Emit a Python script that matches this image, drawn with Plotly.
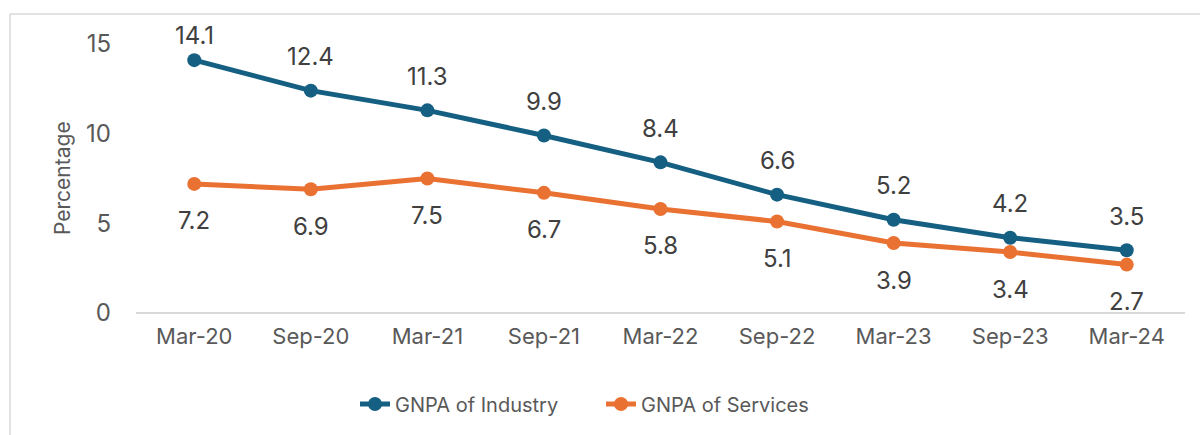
import plotly.graph_objects as go

categories = ["Mar-20", "Sep-20", "Mar-21", "Sep-21", "Mar-22", "Sep-22", "Mar-23", "Sep-23", "Mar-24"]
industry = [14.1, 12.4, 11.3, 9.9, 8.4, 6.6, 5.2, 4.2, 3.5]
services = [7.2, 6.9, 7.5, 6.7, 5.8, 5.1, 3.9, 3.4, 2.7]
y_ticks = [0, 5, 10, 15]

W, H = 1200, 435
L, R, T, B = 136, 15, 44, 122
pw, ph = W - L - R, H - T - B
YMAX = 15

FONT = "Inter, Roboto, Liberation Sans, sans-serif"
BLUE, ORANGE = "#156082", "#E97132"
LABEL_SIZE = 24

fig = go.Figure()
for name, vals, col in [("GNPA of Industry", industry, BLUE), ("GNPA of Services", services, ORANGE)]:
    fig.add_trace(go.Scatter(
        x=categories, y=vals, name=name, mode="lines+markers",
        line=dict(color=col, width=5), marker=dict(size=14, color=col),
        cliponaxis=False,
    ))

# data labels: industry above, services below
for c, v in zip(categories, industry):
    point_px = T + (YMAX - v) * ph / YMAX
    shift = min(34, point_px - 36)
    fig.add_annotation(x=c, y=v, text=f"{v:.1f}", showarrow=False, yshift=shift,
                       font=dict(size=LABEL_SIZE, color="#404040", family=FONT))
for c, v in zip(categories, services):
    fig.add_annotation(x=c, y=v, text=f"{v:.1f}", showarrow=False, yshift=-37,
                       font=dict(size=LABEL_SIZE, color="#404040", family=FONT))

def px_x(p):
    return (p - L) / pw

def px_y(p):
    return 1 - (p - T) / ph

fig.add_shape(type="rect", xref="paper", yref="paper",
              x0=px_x(10), x1=px_x(1215), y0=px_y(14), y1=px_y(460),
              line=dict(color="#d9d9d9", width=1.5), fillcolor="rgba(0,0,0,0)", layer="below")

fig.add_annotation(text="Percentage", xref="paper", yref="paper",
                   x=px_x(62), y=px_y(178), xanchor="center", yanchor="middle",
                   textangle=-90, showarrow=False,
                   font=dict(size=21, color="#595959", family=FONT))

fig.update_layout(
    width=W, height=H,
    margin=dict(l=L, r=R, t=T, b=B, autoexpand=False),
    plot_bgcolor="white", paper_bgcolor="white",
    font=dict(family=FONT, color="#595959", size=22),
    xaxis=dict(type="category", range=[-0.5, 8.5], showgrid=False, showline=False,
               zeroline=False, ticks="", tickfont=dict(size=22, color="#595959"),
               ticklabelstandoff=8, automargin=False),
    yaxis=dict(range=[0, YMAX], tickvals=y_ticks, showgrid=False, showline=False,
               zeroline=True, zerolinecolor="#d9d9d9", zerolinewidth=2,
               ticks="", tickfont=dict(size=24, color="#595959"), ticklabelstandoff=24,
               automargin=False),
    legend=dict(orientation="h", x=355 / W, xref="container", xanchor="left",
                y=1 - 404 / H, yref="container", yanchor="middle",
                font=dict(size=20, color="#595959"), itemwidth=30, tracegroupgap=0,
                entrywidth=201, entrywidthmode="pixels"),
    showlegend=True,
)

fig.write_html("out.html", config={"displayModeBar": False},
               post_script="document.body.style.margin='0';document.body.style.padding='0';")
